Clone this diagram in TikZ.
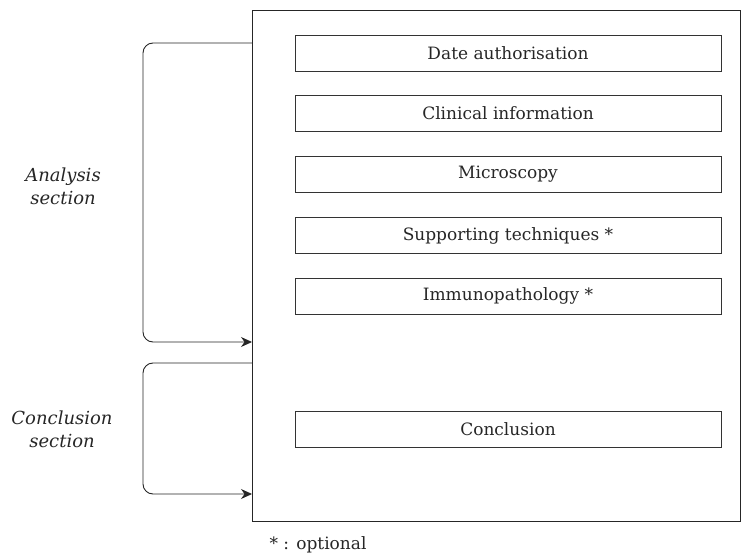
\documentclass[tikz,border=0pt]{standalone}
\usepackage{fontspec}
\setmainfont{DejaVu Serif}
\usetikzlibrary{arrows.meta}
\begin{document}
\begin{tikzpicture}[x=1pt,y=-1pt,
  every node/.style={font=\fontsize{17}{20}\selectfont, text=black!85},
  item/.style={draw=black!80, line width=0.9pt, minimum width=426pt, minimum height=36pt, inner sep=0pt},
  frame/.style={draw=black!85, line width=0.9pt},
  bracket/.style={draw=black!85, line width=0.9pt, rounded corners=10pt},
  side/.style={align=center, font=\fontsize{18}{23}\selectfont\itshape}]
\useasboundingbox (0,0) rectangle (752,556);
% outer frame
\draw[frame] (252,10) rectangle (740,521);
\coordinate (fa1) at (252,43);
\coordinate (fa2) at (252,342);
\coordinate (fc1) at (252,363);
\coordinate (fc2) at (252,494);
% report items
\node[item] (date) at (508,53) {Date authorisation};
\node[item] (clin) at (508,113.5) {Clinical information};
\node[item] (micro) at (508,174.5) {Microscopy};
\node[item] (supp) at (508,235.5) {Supporting techniques *};
\node[item] (immu) at (508,296) {Immunopathology *};
\node[item] (concl) at (508,429) {Conclusion};
% section brackets
\draw[bracket, -{Stealth[length=11pt,width=10pt]}] (fa1) -- (143,43) -- (143,342) -- (fa2);
\draw[bracket, -{Stealth[length=11pt,width=10pt]}] (fc1) -- (143,363) -- (143,494) -- (fc2);
% labels
\node[side] (ana) at (63,186) {Analysis\\section};
\node[side] (con) at (62,429) {Conclusion\\section};
\node (opt) at (318,545) {* : optional};
\end{tikzpicture}
\end{document}
